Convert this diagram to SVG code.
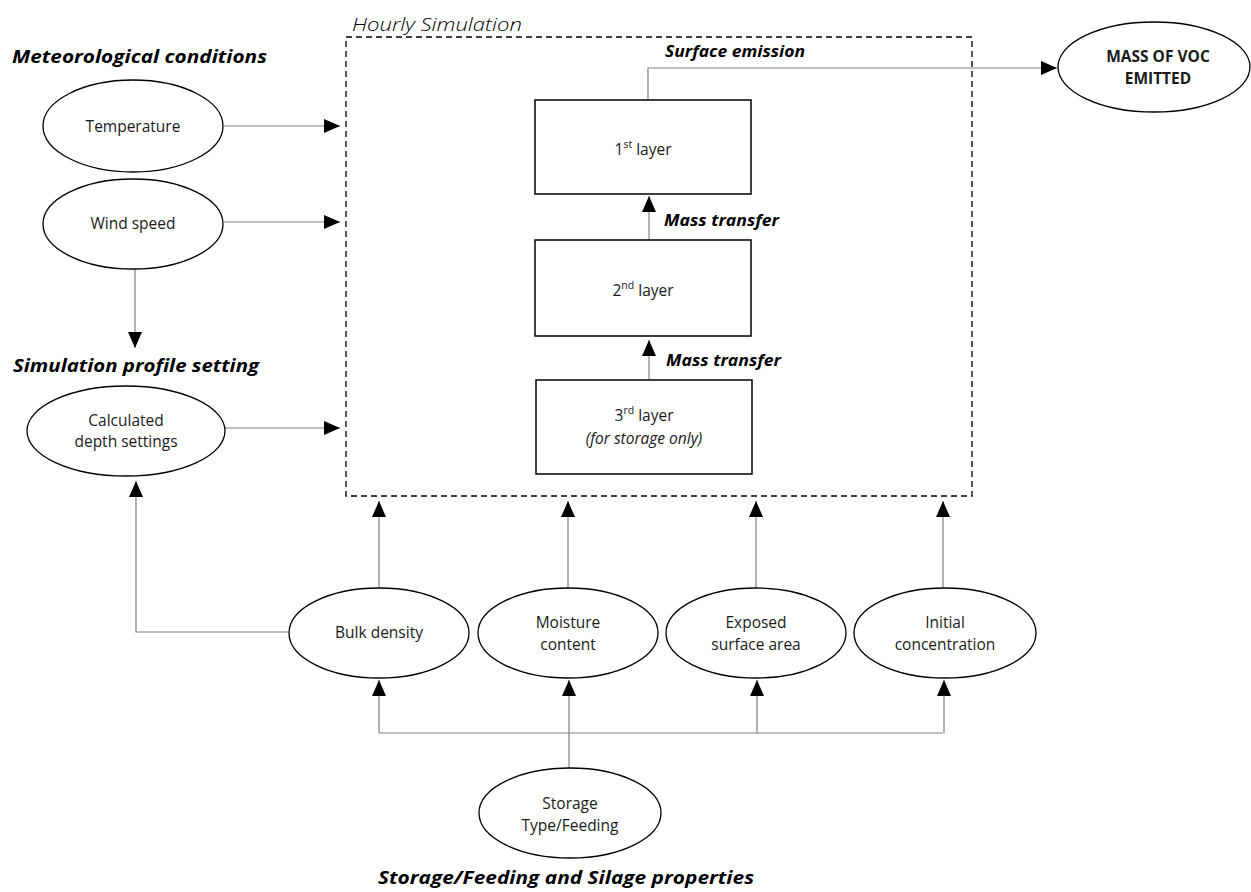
<svg xmlns="http://www.w3.org/2000/svg" width="1251" height="892" viewBox="0 0 1251 892">
<defs>
<marker id="ah" viewBox="0 0 16 14" refX="16" refY="7" markerWidth="16" markerHeight="14" markerUnits="userSpaceOnUse" orient="auto">
<path d="M0,0 L16,7 L0,14 Z" fill="#000"/>
</marker>
</defs>
<style>
.t{font-family:"Open Sans","Liberation Sans",sans-serif;font-size:15.5px;fill:#1a1a1a;text-anchor:middle}
.h{font-family:"Open Sans","Liberation Sans",sans-serif;font-size:18px;font-weight:bold;font-style:italic;fill:#000}
.lbl{font-family:"Open Sans","Liberation Sans",sans-serif;font-size:16px;font-weight:bold;font-style:italic;fill:#000}
.e{fill:#fff;stroke:#000;stroke-width:1.3}
.r{fill:#fff;stroke:#000;stroke-width:1.5}
.c{fill:none;stroke:#808080;stroke-width:1.2}
.sup{font-size:10.5px}
</style>
<rect width="1251" height="892" fill="#fff"/>

<g id="hourly-simulation">
<rect x="346" y="37" width="626" height="459" fill="none" stroke="#000" stroke-width="1.3" stroke-dasharray="6 4"/>
<text x="352" y="31" textLength="170" lengthAdjust="spacingAndGlyphs" style="font-family:'Open Sans','Liberation Sans',sans-serif;font-size:18px;font-style:italic;font-weight:300;fill:#000">Hourly Simulation</text>
</g>

<g id="headings">
<text class="h" x="12" y="63" textLength="255" lengthAdjust="spacingAndGlyphs">Meteorological conditions</text>
<text class="h" x="13" y="372" textLength="246" lengthAdjust="spacingAndGlyphs">Simulation profile setting</text>
<text class="h" x="378" y="884" textLength="376" lengthAdjust="spacingAndGlyphs">Storage/Feeding and Silage properties</text>
</g>

<g id="connectors">
<line class="c" x1="224" y1="126" x2="340" y2="126" marker-end="url(#ah)"/>
<line class="c" x1="224" y1="222" x2="340" y2="222" marker-end="url(#ah)"/>
<line class="c" x1="135" y1="269" x2="135" y2="348" marker-end="url(#ah)"/>
<line class="c" x1="225" y1="428" x2="340" y2="428" marker-end="url(#ah)"/>
<path class="c" d="M289,632 H136 V481" marker-end="url(#ah)"/>
<line class="c" x1="379" y1="588" x2="379" y2="501" marker-end="url(#ah)"/>
<line class="c" x1="568" y1="588" x2="568" y2="501" marker-end="url(#ah)"/>
<line class="c" x1="756" y1="588" x2="756" y2="501" marker-end="url(#ah)"/>
<line class="c" x1="943" y1="588" x2="943" y2="501" marker-end="url(#ah)"/>
<line class="c" x1="569" y1="768" x2="569" y2="733"/>
<line class="c" x1="379" y1="733" x2="943" y2="733"/>
<line class="c" x1="379" y1="733" x2="379" y2="680" marker-end="url(#ah)"/>
<line class="c" x1="569" y1="733" x2="569" y2="680" marker-end="url(#ah)"/>
<line class="c" x1="757" y1="733" x2="757" y2="680" marker-end="url(#ah)"/>
<line class="c" x1="944" y1="733" x2="944" y2="680" marker-end="url(#ah)"/>
<line class="c" x1="649" y1="240" x2="649" y2="196" marker-end="url(#ah)"/>
<line class="c" x1="649" y1="380" x2="649" y2="340" marker-end="url(#ah)"/>
<path class="c" d="M648,100 V68 H1057" marker-end="url(#ah)"/>
<text class="lbl" x="665" y="57" textLength="140" lengthAdjust="spacingAndGlyphs">Surface emission</text>
<text class="lbl" x="664" y="226" textLength="115" lengthAdjust="spacingAndGlyphs">Mass transfer</text>
<text class="lbl" x="666" y="366" textLength="115" lengthAdjust="spacingAndGlyphs">Mass transfer</text>
</g>

<g id="temperature">
<ellipse class="e" cx="133" cy="126" rx="90" ry="46"/>
<text class="t" x="133" y="132">Temperature</text>
</g>
<g id="wind-speed">
<ellipse class="e" cx="133" cy="224" rx="90" ry="45"/>
<text class="t" x="133" y="229">Wind speed</text>
</g>
<g id="calculated-depth">
<ellipse class="e" cx="126" cy="431" rx="99" ry="45"/>
<text class="t" x="126" y="426">Calculated</text>
<text class="t" x="126" y="447">depth settings</text>
</g>

<g id="layer1">
<rect class="r" x="535" y="100" width="216" height="94"/>
<text class="t" x="643" y="155">1<tspan class="sup" dy="-7">st</tspan><tspan dy="7"> layer</tspan></text>
</g>
<g id="layer2">
<rect class="r" x="535" y="240" width="216" height="96"/>
<text class="t" x="643" y="296">2<tspan class="sup" dy="-7">nd</tspan><tspan dy="7"> layer</tspan></text>
</g>
<g id="layer3">
<rect class="r" x="536" y="380" width="216" height="94"/>
<text class="t" x="644" y="421">3<tspan class="sup" dy="-7">rd</tspan><tspan dy="7"> layer</tspan></text>
<text class="t" x="644" y="444" font-style="italic">(for storage only)</text>
</g>

<g id="mass-voc">
<ellipse class="e" cx="1154" cy="67" rx="96" ry="45"/>
<text class="t" x="1158" y="62" font-weight="bold" font-size="15">MASS OF VOC</text>
<text class="t" x="1158" y="84" font-weight="bold" font-size="15">EMITTED</text>
</g>

<g id="bulk-density">
<ellipse class="e" cx="379" cy="633" rx="90" ry="45"/>
<text class="t" x="379" y="638">Bulk density</text>
</g>
<g id="moisture-content">
<ellipse class="e" cx="568" cy="633" rx="90" ry="45"/>
<text class="t" x="568" y="628">Moisture</text>
<text class="t" x="568" y="650">content</text>
</g>
<g id="exposed-surface">
<ellipse class="e" cx="756" cy="633" rx="90" ry="45"/>
<text class="t" x="756" y="628">Exposed</text>
<text class="t" x="756" y="650">surface area</text>
</g>
<g id="initial-concentration">
<ellipse class="e" cx="945" cy="633" rx="91" ry="45"/>
<text class="t" x="945" y="628">Initial</text>
<text class="t" x="945" y="650">concentration</text>
</g>
<g id="storage-type">
<ellipse class="e" cx="570" cy="813" rx="91" ry="45"/>
<text class="t" x="570" y="809">Storage</text>
<text class="t" x="570" y="831">Type/Feeding</text>
</g>
</svg>
